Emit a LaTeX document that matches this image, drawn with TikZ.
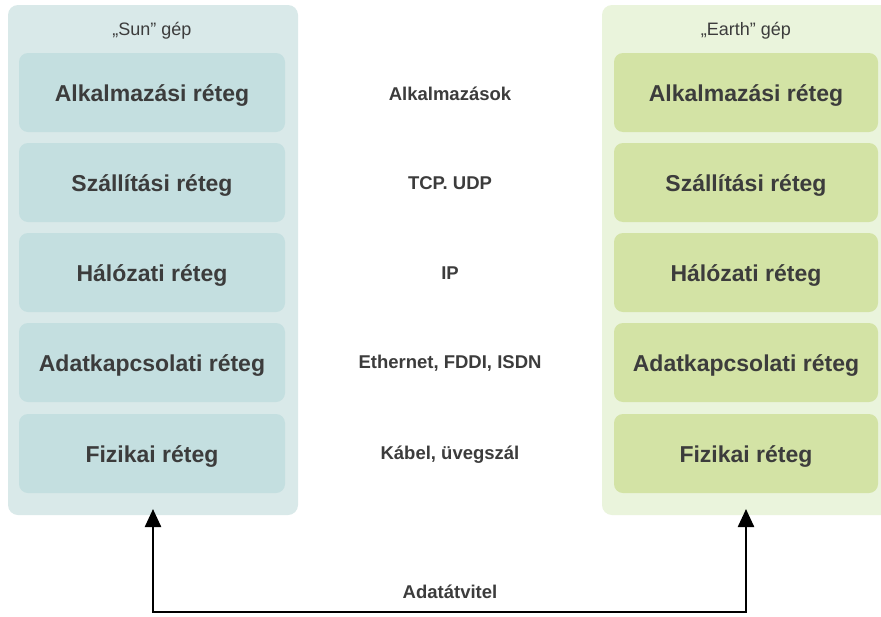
\documentclass[tikz,border=0pt]{standalone}
\usepackage{fontspec}
\setmainfont{Liberation Sans}
\usetikzlibrary{arrows.meta}
\definecolor{sunout}{HTML}{D9E9E9}
\definecolor{sunin}{HTML}{C4DFE0}
\definecolor{earthout}{HTML}{EAF4DC}
\definecolor{earthin}{HTML}{D3E3A5}
\definecolor{txt}{HTML}{3C3C3C}
\begin{document}
\begin{tikzpicture}[x=1pt,y=-1pt,
  outer/.style={rounded corners=10pt,minimum width=#1,minimum height=510pt,inner sep=0pt},
  layer/.style={rounded corners=9pt,minimum height=79pt,inner sep=0pt,text=txt,
    text height=18.5pt,text depth=0pt,
    font=\fontsize{23}{26}\selectfont\bfseries},
  proto/.style={text=txt,font=\fontsize{18.5}{21}\selectfont\bfseries},
  title/.style={text=txt,font=\fontsize{18}{21}\selectfont},
  arr/.style={line width=2.4pt,{Triangle[length=18pt,width=16pt]}-{Triangle[length=18pt,width=16pt]}}]
\useasboundingbox (0,0) rectangle (881,616);
\fill[white] (0,0) rectangle (881,616);
\node[outer=290pt,fill=sunout] (sun) at (153,260) {};
\node[outer=290pt,fill=earthout] (earth) at (747,260) {};
\node[title] (sunt) at (152,31) {„Sun” gép};
\node[title] (eartht) at (746,31) {„Earth” gép};
\foreach \y/\t/\p/\n in {92.5/Alkalmazási réteg/Alkalmazások/1,
  182.5/Szállítási réteg/TCP. UDP/2,
  272.5/Hálózati réteg/IP/3,
  362.5/Adatkapcsolati réteg/{Ethernet, FDDI, ISDN}/4,
  453.5/Fizikai réteg/{Kábel, üvegszál}/5}{
  \node[layer,fill=sunin,minimum width=266pt] (s\n) at (152,\y) {\t};
  \node[layer,fill=earthin,minimum width=264pt] (e\n) at (746,\y) {\t};
  \node[proto] (p\n) at (450,\y+1) {\p};
}
\coordinate (tl) at (153,509);
\coordinate (tr) at (746,509);
\coordinate (bl) at (153,612);
\coordinate (br) at (746,612);
\draw[arr] (tl) -- (bl) -- (br) -- (tr);
\node[proto] (dt) at (450,592) {Adatátvitel};
\end{tikzpicture}
\end{document}
